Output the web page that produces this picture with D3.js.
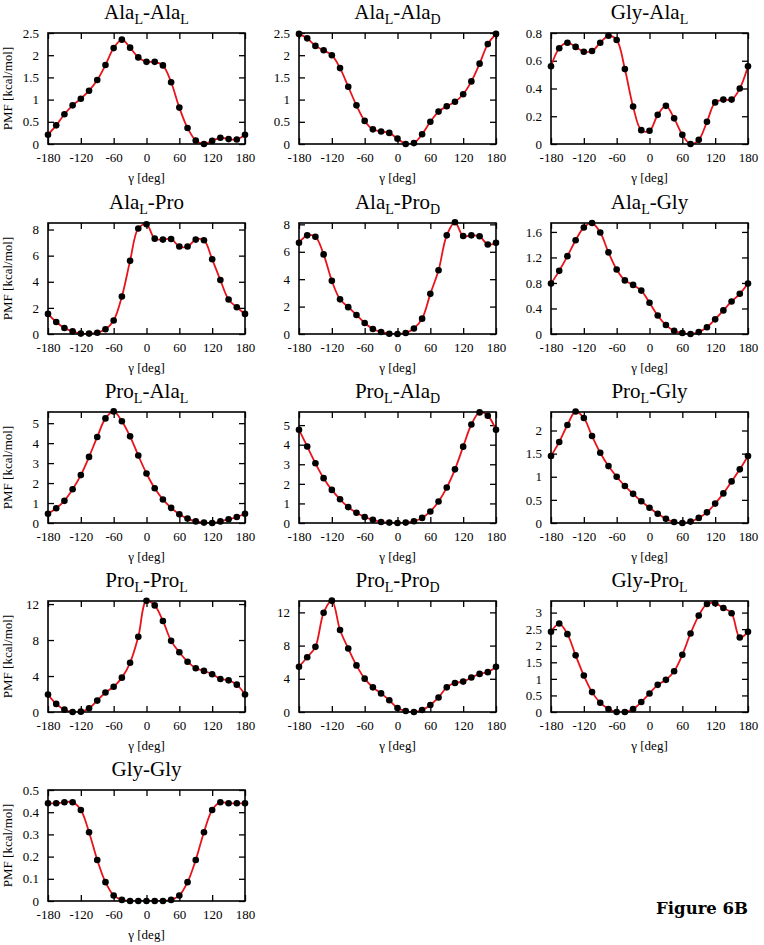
<!DOCTYPE html>
<html><head><meta charset="utf-8">
<script src="https://cdn.jsdelivr.net/npm/d3@7"></script>
<style>body{margin:0;background:#fff} svg text{font-family:'Liberation Serif','Times New Roman',serif}</style>
</head><body><svg id="c" width="764" height="945"></svg>
<script>
const gamma = [-180,-165,-150,-135,-120,-105,-90,-75,-60,-45,-30,-15,0,15,30,45,60,75,90,105,120,135,150,165,180];
const xTicks = [-180,-120,-60,0,60,120,180];

const titles = ["Ala_L-Ala_L","Ala_L-Ala_D","Gly-Ala_L","Ala_L-Pro","Ala_L-Pro_D","Ala_L-Gly",
  "Pro_L-Ala_L","Pro_L-Ala_D","Pro_L-Gly","Pro_L-Pro_L","Pro_L-Pro_D","Gly-Pro_L","Gly-Gly"];

const alaLalaL = [0.21,0.42,0.67,0.87,1.02,1.20,1.44,1.78,2.16,2.35,2.17,1.95,1.85,1.85,1.77,1.39,0.82,0.36,0.08,0.0,0.07,0.14,0.11,0.10,0.21];
const alaLalaD = [2.48,2.38,2.21,2.11,2.0,1.71,1.29,0.87,0.52,0.33,0.28,0.25,0.12,0.0,0.02,0.22,0.50,0.73,0.85,0.95,1.12,1.41,1.81,2.25,2.48];
const glyAlaL = [0.56,0.69,0.73,0.70,0.665,0.67,0.73,0.78,0.75,0.54,0.27,0.10,0.095,0.21,0.275,0.185,0.066,0.0,0.03,0.16,0.30,0.32,0.32,0.40,0.56];
const alaLpro = [1.54,0.92,0.46,0.2,0.03,0.03,0.1,0.36,1.03,2.87,5.6,8.08,8.4,7.3,7.23,7.28,6.7,6.7,7.23,7.18,5.72,4.13,2.64,2.05,1.54];
const alaLproD = [6.66,7.2,7.1,5.81,3.88,2.53,1.96,1.39,0.8,0.37,0.15,0.02,0.0,0.07,0.4,1.12,2.93,4.65,7.2,8.15,7.15,7.2,7.13,6.53,6.66];
const alaLgly = [0.79,0.99,1.22,1.47,1.67,1.74,1.59,1.28,1.01,0.84,0.77,0.68,0.49,0.29,0.14,0.05,0.015,0.0,0.03,0.105,0.23,0.37,0.51,0.63,0.79];
const proLalaL = [0.46,0.74,1.11,1.69,2.4,3.31,4.31,5.24,5.59,5.1,4.34,3.38,2.48,1.74,1.18,0.76,0.44,0.22,0.08,0.02,0.0,0.08,0.19,0.3,0.46];
const proLalaD = [4.76,3.91,3.05,2.29,1.69,1.21,0.81,0.52,0.31,0.16,0.05,0.02,0.0,0.02,0.09,0.26,0.59,1.1,1.81,2.74,3.9,5.03,5.65,5.48,4.76];
const proLgly = [1.45,1.75,2.12,2.41,2.27,1.88,1.52,1.23,1.0,0.8,0.63,0.47,0.33,0.2,0.09,0.02,0.0,0.03,0.11,0.23,0.42,0.64,0.9,1.16,1.45];
const proLproL = [1.95,0.9,0.26,0.0,0.04,0.41,1.27,2.17,2.81,3.82,5.47,8.36,12.37,11.85,10.12,7.91,6.64,5.59,4.87,4.57,4.2,3.67,3.52,3.04,1.95];
const proLproD = [5.45,6.59,7.85,11.95,13.41,9.88,7.64,5.61,4.02,2.97,2.24,1.42,0.49,0.12,0.0,0.24,0.85,1.75,2.97,3.5,3.66,4.15,4.59,4.8,5.45];
const glyProL = [2.42,2.67,2.35,1.71,1.1,0.6,0.28,0.09,0.0,0.0,0.09,0.3,0.56,0.82,0.97,1.23,1.73,2.37,2.91,3.26,3.28,3.14,2.98,2.25,2.42];
const glyGly = [0.44,0.44,0.445,0.445,0.41,0.31,0.185,0.085,0.025,0.005,0.0,0.0,0.0,0.0,0.0,0.005,0.025,0.085,0.185,0.31,0.41,0.445,0.44,0.44,0.44];

const seriesValues = [alaLalaL,alaLalaD,glyAlaL,alaLpro,alaLproD,alaLgly,proLalaL,proLalaD,proLgly,proLproL,proLproD,glyProL,glyGly];
const yMaxes = [2.5,2.5,0.8,8.5,8.1,1.74,5.56,5.67,2.4,12.34,13.37,3.35,0.5];
const yTickSets = [
  [0,0.5,1,1.5,2,2.5],[0,0.5,1,1.5,2,2.5],[0,0.2,0.4,0.6,0.8],
  [0,2,4,6,8],[0,2,4,6,8],[0,0.4,0.8,1.2,1.6],
  [0,1,2,3,4,5],[0,1,2,3,4,5],[0,0.5,1,1.5,2],
  [0,4,8,12],[0,4,8,12],[0,0.5,1,1.5,2,2.5,3],
  [0,0.1,0.2,0.3,0.4,0.5]];
const yAxisTitle = "PMF [kcal/mol]";
const xAxisTitle = "γ [deg]";
const figureLabel = "Figure 6B";

const colLeft = [48, 299, 551];
const rowTop = [33, 223, 412, 601, 790];
const pw = 197, ph = 111;
const serif = "'Liberation Serif','Times New Roman',serif";

const svg = d3.select("#c");
svg.append("rect").attr("width",764).attr("height",945).attr("fill","#fff");
const defs = svg.append("defs");

titles.forEach((title, i) => {
  const col = i % 3, row = Math.floor(i / 3);
  const g = svg.append("g").attr("transform", `translate(${colLeft[col]},${rowTop[row]})`);
  const x = d3.scaleLinear().domain([-180,180]).range([0,pw]);
  const y = d3.scaleLinear().domain([0,yMaxes[i]]).range([ph,0]);
  const fmt = d => String(+d.toFixed(2));

  const xb = g.append("g").attr("transform",`translate(0,${ph})`)
    .call(d3.axisBottom(x).tickValues(xTicks).tickSize(-6).tickPadding(9).tickFormat(d => String(d)));
  const xt = g.append("g").call(d3.axisTop(x).tickValues(xTicks).tickSize(-6).tickFormat(""));
  const yl = g.append("g")
    .call(d3.axisLeft(y).tickValues(yTickSets[i]).tickSize(-6).tickPadding(9).tickFormat(fmt));
  const yr = g.append("g").attr("transform",`translate(${pw},0)`)
    .call(d3.axisRight(y).tickValues(yTickSets[i]).tickSize(-6).tickFormat(""));
  [xb,xt,yl,yr].forEach(a => {
    a.attr("font-family", serif).attr("font-size", 13);
    a.select(".domain").remove();
    a.selectAll("line").attr("stroke","#000").attr("stroke-width",1.3);
    a.selectAll("text").style("font-family",serif).style("font-size","13px").attr("fill","#000");
  });

  const cid = "clip" + i;
  defs.append("clipPath").attr("id",cid).append("rect").attr("width",pw).attr("height",ph);

  const pts = gamma.map((gv, k) => [gv, seriesValues[i][k]]);
  const line = d3.line().x(d => x(d[0])).y(d => y(d[1])).curve(d3.curveCatmullRom.alpha(0.5));
  g.append("path").attr("d", line(pts)).attr("fill","none").attr("stroke","#e8141b")
    .attr("stroke-width",1.8).attr("clip-path",`url(#${cid})`);

  g.append("rect").attr("width",pw).attr("height",ph).attr("fill","none")
    .attr("stroke","#000").attr("stroke-width",1.6);

  g.selectAll("circle.pt").data(pts).join("circle").attr("class","pt")
    .attr("cx", d => x(d[0])).attr("cy", d => y(d[1])).attr("r",3.3).attr("fill","#000");

  const t = g.append("text").attr("x",pw/2).attr("y",-14).attr("text-anchor","middle")
    .style("font-family",serif).style("font-size","21px").attr("fill","#000");
  const parts = title.split(/(_[A-Z])/).filter(s => s.length);
  let shifted = false;
  parts.forEach(p => {
    if (p.startsWith("_")) {
      t.append("tspan").text(p.slice(1)).style("font-size","14px").attr("dy", 5);
      shifted = true;
    } else {
      const ts = t.append("tspan").text(p);
      if (shifted) { ts.attr("dy", -5); shifted = false; }
    }
  });

  g.append("text").attr("x",pw/2).attr("y",ph+38).attr("text-anchor","middle")
    .style("font-family",serif).style("font-size","13px").attr("fill","#000").text(xAxisTitle);

  if (col === 0) {
    g.append("text").attr("transform",`translate(${-36},${ph/2}) rotate(-90)`)
      .attr("text-anchor","middle").style("font-family",serif).style("font-size","13px")
      .attr("fill","#000").text(yAxisTitle);
  }
});

svg.append("text").attr("x",748).attr("y",914).attr("text-anchor","end")
  .style("font-family","'DejaVu Serif',serif").style("font-weight","bold").style("font-size","16.5px")
  .attr("fill","#000").text(figureLabel);
</script>
</body></html>
